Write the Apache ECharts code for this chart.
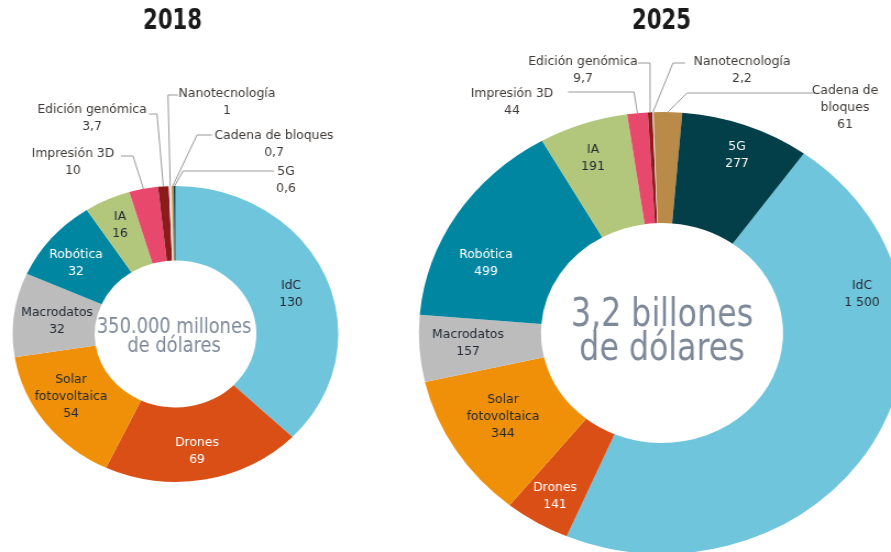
<!DOCTYPE html>
<html>
<head>
<meta charset="utf-8">
<script src="https://cdn.jsdelivr.net/npm/echarts@6/dist/echarts.min.js"></script>
<style>
  html, body { margin: 0; padding: 0; overflow: hidden; background: #fff; }
  /* the reference is stretched 10% horizontally, so the canvas is too */
  #chart { width: 810px; height: 552px; transform: scaleX(1.1); transform-origin: 0 0; }
</style>
</head>
<body>
<div id="chart"></div>
<script>
// datos
const categories = ['IdC', 'Drones', 'Solar fotovoltaica', 'Macrodatos', 'Robótica', 'IA',
  'Impresión 3D', 'Edición genómica', 'Nanotecnología', 'Cadena de bloques', '5G'];
const values2018 = [130, 69, 54, 32, 32, 16, 10, 3.7, 1, 0.7, 0.6];
const values2025 = [1500, 141, 344, 157, 499, 191, 44, 9.7, 2.2, 61, 277];
const labels2018 = ['IdC', 'Drones', 'Solar\nfotovoltaica', 'Macrodatos', 'Robótica', 'IA',
  'Impresión 3D', 'Edición genómica', 'Nanotecnología', 'Cadena de bloques', '5G'];
const labels2025 = ['IdC', 'Drones', 'Solar\nfotovoltaica', 'Macrodatos', 'Robótica', 'IA',
  'Impresión 3D', 'Edición genómica', 'Nanotecnología', 'Cadena de\nbloques', '5G'];
const years = ['2018', '2025'];
const totals = ['350.000 millones\nde dólares', '3,2 billones\nde dólares'];

const colors = ['#6fc5dc', '#d94f15', '#f09008', '#bcbcbc', '#0086a1', '#b3c77c',
  '#e8486c', '#8c1b1b', '#e6e1d6', '#b98a48', '#033f49'];
const labelColors = ['#242a34', '#ffffff', '#242a34', '#242a34', '#ffffff', '#242a34',
  '#242a34', '#242a34', '#242a34', '#242a34', '#ffffff'];

const SX = 1.1;
const FONT = "'DejaVu Sans Condensed', 'DejaVu Sans', sans-serif";

// label centres in screen px; line = [elbowX, y, endX]
const layout2018 = [
  { x: 291, y: 294 }, { x: 197, y: 451 }, { x: 71, y: 397 }, { x: 57, y: 321 },
  { x: 76, y: 263 }, { x: 120, y: 225 },
  { x: 73, y: 162, line: [133, 156, 121] },
  { x: 92, y: 118, line: [157, 114, 149] },
  { x: 227, y: 102, line: [168, 95, 178] },
  { x: 274, y: 144, line: [197, 135, 212] },
  { x: 286, y: 180, line: [183, 171, 274] }
];
const layout2025 = [
  { x: 862, y: 294 }, { x: 555, y: 496 }, { x: 503, y: 417 }, { x: 468, y: 343 },
  { x: 486, y: 263 }, { x: 593, y: 158 },
  { x: 512, y: 102, line: [634, 92, 568] },
  { x: 583, y: 70, line: [650, 63, 638] },
  { x: 742, y: 70, line: [673, 63, 685] },
  { x: 845, y: 108, line: [687, 93, 815] },
  { x: 737, y: 155 }
];

function fmt(v) {
  let s = String(v).replace('.', ',');
  if (v >= 1000) s = s.slice(0, s.length - 3) + ' ' + s.slice(-3);
  return s;
}

function buildSeries(values, names, lay, center, radius, startAngle) {
  const data = values.map(function (v, i) {
    const outside = !!lay[i].line;
    return {
      name: categories[i],
      value: v,
      itemStyle: { color: colors[i] },
      label: {
        position: outside ? 'outside' : 'inside',
        color: outside ? '#3d3936' : labelColors[i],
        formatter: names[i] + '\n' + fmt(v)
      },
      labelLine: { show: outside }
    };
  });
  return {
    type: 'pie',
    center: [center[0] / SX, center[1]],
    radius: radius,
    startAngle: startAngle,
    clockwise: true,
    avoidLabelOverlap: false,
    silent: true,
    itemStyle: { borderWidth: 0 },
    label: {
      show: true,
      fontFamily: FONT,
      fontSize: 12.5,
      lineHeight: 17
    },
    labelLine: { lineStyle: { color: '#9a9a9a', width: 1 }, length: 10, length2: 10 },
    labelLayout: function (p) {
      const L = lay[p.dataIndex];
      const out = { x: L.x / SX, y: L.y, align: 'center', verticalAlign: 'middle' };
      if (L.line && p.labelLinePoints) {
        const a = p.labelLinePoints[0];
        out.labelLinePoints = [a, [L.line[0] / SX, L.line[1]], [L.line[2] / SX, L.line[1]]];
      }
      return out;
    },
    data: data
  };
}

function textEl(str, x, y, font, color, lineHeight, squeeze) {
  return {
    type: 'text', x: x / SX, y: y, scaleX: squeeze, silent: true,
    style: { text: str, fill: color, font: font, lineHeight: lineHeight,
      align: 'center', verticalAlign: 'middle' }
  };
}

const chart = echarts.init(document.getElementById('chart'));
chart.setOption({
  animation: false,
  graphic: [
    textEl(years[0], 172.5, 21, 'bold 29px ' + FONT, '#1a1a1a', 30, 0.74),
    textEl(years[1], 661.5, 21, 'bold 29px ' + FONT, '#1a1a1a', 30, 0.74),
    textEl(totals[0], 174, 337, '21px ' + FONT, '#7d8899', 19, 0.86),
    textEl(totals[1], 662, 333, '39px ' + FONT, '#7d8899', 34, 0.82)
  ],
  series: [
    buildSeries(values2018, labels2018, layout2018, [175.5, 334], [73.5, 148], 90),
    buildSeries(values2025, labels2025, layout2025, [662, 333], [110, 221], 54.3)
  ]
});
</script>
</body>
</html>
